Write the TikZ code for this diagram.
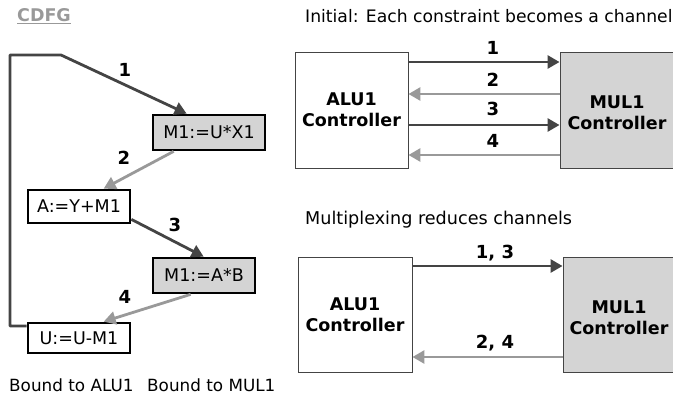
\documentclass[tikz,border=0pt]{standalone}
\usepackage{fontspec}
\setmainfont{DejaVu Sans}
\usetikzlibrary{arrows.meta,calc}
\definecolor{darkc}{HTML}{444444}
\definecolor{lightc}{HTML}{999999}
\definecolor{fillc}{HTML}{D4D4D4}
\begin{document}
\begin{tikzpicture}[x=1pt,y=-1pt,
  dkarrow/.style={draw=darkc, line width=2.8pt, -{Triangle[length=12pt,width=13pt]}},
  ltarrow/.style={draw=lightc, line width=2.8pt, -{Triangle[length=12pt,width=13pt]}},
  opbox/.style={draw=black, line width=2.7pt, inner sep=0pt, font=\fontsize{17.5}{20}\selectfont},
  mulop/.style={opbox, fill=fillc},
  ctrl/.style={draw=darkc, line width=0.9pt, inner sep=0pt, align=center,
     font=\fontsize{17.5}{21}\selectfont\bfseries},
  num/.style={font=\fontsize{18}{20}\selectfont\bfseries, inner sep=0pt},
  plain/.style={font=\fontsize{17.6}{20}\selectfont, inner sep=0pt, anchor=west},
  bound/.style={font=\fontsize{16.8}{18}\selectfont, inner sep=0pt, anchor=west},
]
\useasboundingbox (0,0) rectangle (673,400);
\clip (0,0) rectangle (673,400);

% ---- CDFG ----
\node[font=\fontsize{17.5}{20}\selectfont\bfseries, text=lightc, inner sep=0pt] (cdfg) at (44,16) {\underline{CDFG}};

\node[mulop, minimum width=112pt, minimum height=35pt] (ma) at (209,132.5) {M1:=U*X1};
\node[opbox, minimum width=102pt, minimum height=33pt] (aa) at (79,206.5) {A:=Y+M1};
\node[mulop, minimum width=102pt, minimum height=35pt] (mb) at (204,275.5) {M1:=A*B};
\node[opbox, minimum width=102pt, minimum height=30pt] (ua) at (79,338) {U:=U-M1};

\coordinate (lb) at (10,326);
\coordinate (lt) at (10,55);
\coordinate (lc) at (61,55);
\draw[dkarrow, line join=round] (ua.west |- lb) -- (lb) -- (lt) -- (lc) -- ($(ma.north west)+(35,0)$);
\draw[ltarrow] ($(ma.south west)+(22,0)$) -- ($(aa.north west)+(77,0)$);
\draw[dkarrow] ($(aa.south east)+(0,-5)$) -- ($(mb.north west)+(52,0)$);
\draw[ltarrow] ($(mb.south west)+(39,0)$) -- ($(ua.north west)+(77,0)$);

\node[num] (n1) at (125,70) {1};
\node[num] (n2) at (124,158) {2};
\node[num] (n3) at (175,225) {3};
\node[num] (n4) at (125,297) {4};

\node[bound] (b1) at (9,385) {Bound to ALU1};
\node[bound] (b2) at (147,385) {Bound to MUL1};

% ---- Initial ----
\node[plain, font=\fontsize{17.2}{20}\selectfont] (t1) at (305,16) {Initial: Each constraint becomes a channel};
\node[ctrl, minimum width=113pt, minimum height=116pt] (alu1) at (351.5,110) {ALU1\\Controller};
\node[ctrl, fill=fillc, minimum width=140pt, minimum height=116pt] (mul1) at (630,110) {};
\node[font=\fontsize{17.5}{21}\selectfont\bfseries, align=center, inner sep=0pt] (mul1t) at (617,113) {MUL1\\Controller};

\draw[dkarrow] (alu1.east |- 0,62) -- (mul1.west |- 0,62);
\draw[ltarrow] (mul1.west |- 0,94) -- (alu1.east |- 0,94);
\draw[dkarrow] (alu1.east |- 0,125) -- (mul1.west |- 0,125);
\draw[ltarrow] (mul1.west |- 0,155) -- (alu1.east |- 0,155);
\node[num] (c1) at (493,48) {1};
\node[num] (c2) at (493,80) {2};
\node[num] (c3) at (493,109) {3};
\node[num] (c4) at (493,141) {4};

% ---- Multiplexing ----
\node[plain] (t2) at (305,220) {Multiplexing reduces channels};
\node[ctrl, minimum width=114pt, minimum height=115pt] (alu2) at (355,314.5) {ALU1\\Controller};
\node[ctrl, fill=fillc, minimum width=140pt, minimum height=115pt] (mul2) at (633,314.5) {};
\node[font=\fontsize{17.5}{21}\selectfont\bfseries, align=center, inner sep=0pt] (mul2t) at (619,318) {MUL1\\Controller};

\draw[dkarrow] (alu2.east |- 0,266) -- (mul2.west |- 0,266);
\draw[ltarrow] (mul2.west |- 0,357) -- (alu2.east |- 0,357);
\node[num] (d1) at (495,253) {1, 3};
\node[num] (d2) at (495,343) {2, 4};
\end{tikzpicture}
\end{document}
